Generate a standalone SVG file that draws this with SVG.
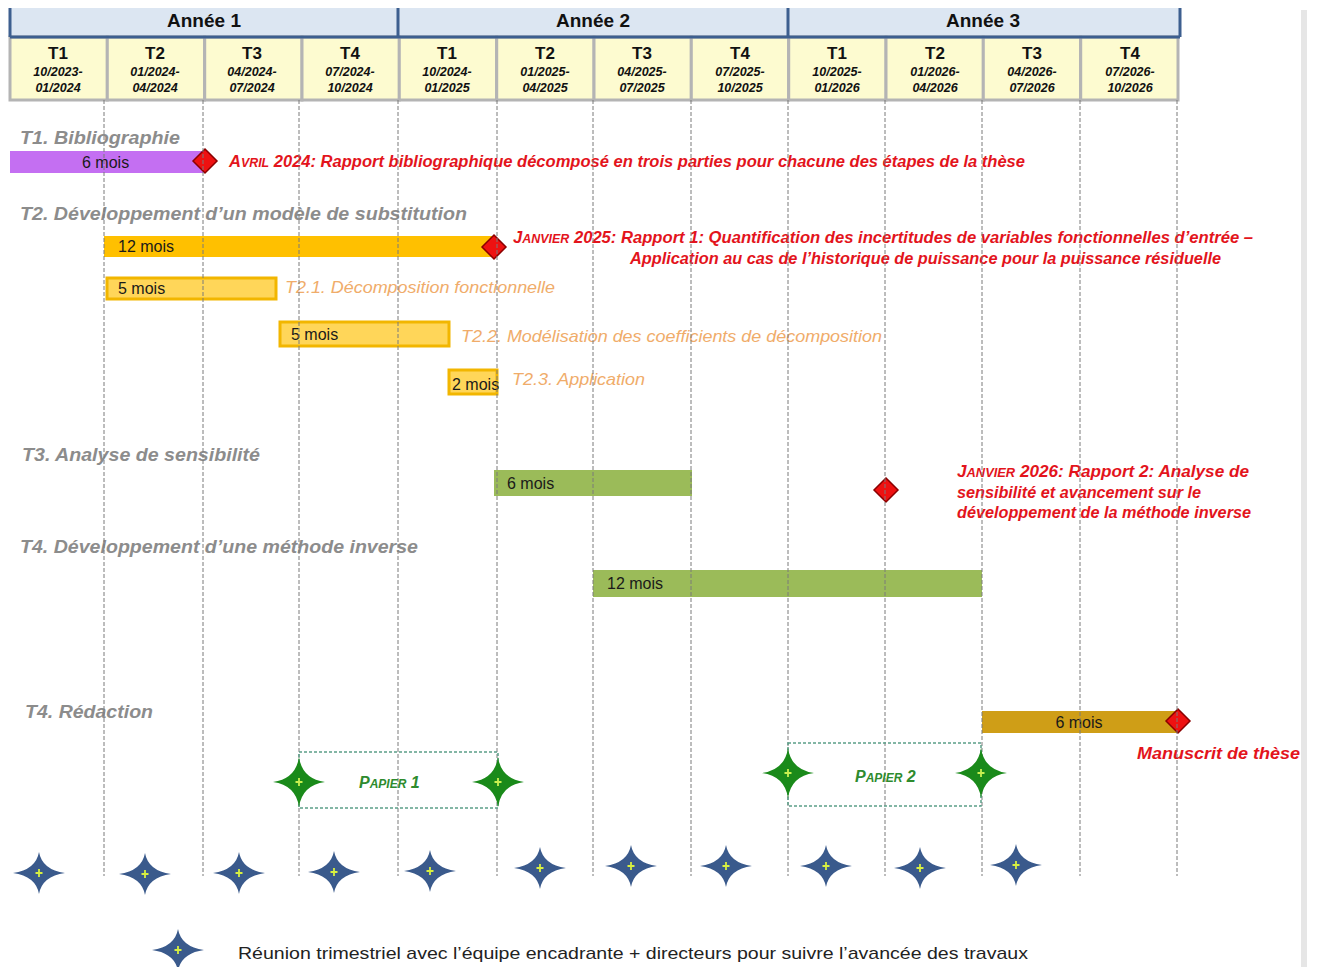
<svg xmlns="http://www.w3.org/2000/svg" width="1317" height="967" viewBox="0 0 1317 967">
<style>
.yr{font-family:"Liberation Sans",Arial,sans-serif;font-weight:bold;font-size:19px;fill:#111;text-anchor:middle}
.q{font-family:"Liberation Sans",Arial,sans-serif;font-weight:bold;font-size:17px;fill:#111;text-anchor:middle}
.dt{font-family:"Liberation Sans",Arial,sans-serif;font-weight:bold;font-style:italic;font-size:12.5px;fill:#111;text-anchor:middle}
.cell{fill:#fdfbd0;stroke:#b4b4b4;stroke-width:3}
.ydiv{stroke:#3d5f8f;stroke-width:3}
.head{font-family:"Liberation Sans",Arial,sans-serif;font-weight:bold;font-style:italic;font-size:18px;fill:#8c8c8c}
.lbl{font-family:"Liberation Sans",Arial,sans-serif;font-size:16px;fill:#1a1a1a}
.red{font-family:"Liberation Sans",Arial,sans-serif;font-weight:bold;font-style:italic;font-size:16px;fill:#e3141c}
.sub{font-family:"Liberation Sans",Arial,sans-serif;font-style:italic;font-size:17px;fill:#f0ac6a}
.pap{font-family:"Liberation Sans",Arial,sans-serif;font-weight:bold;font-style:italic;font-size:16px;fill:#2e8b2e}
.leg{font-family:"Liberation Sans",Arial,sans-serif;font-size:17px;fill:#222}
.sbar{fill:#ffd659;stroke:#f2b600;stroke-width:3}
.dia{fill:#ee1111;stroke:#8b0000;stroke-width:1.5}
.grid{stroke:#7a7a7a;stroke-width:1;stroke-dasharray:4,2}
.pbox{fill:none;stroke:#5b9e88;stroke-width:1.5;stroke-dasharray:3,2}
.sm{font-size:12px}
</style>
<defs>
<path id="diam" d="M0,-12 L12,0 L0,12 L-12,0 Z"/>
<g id="bstar"><path d="M0,-21 Q3.2,-3.2 26,0 Q3.2,3.2 0,21 Q-3.2,3.2 -26,0 Q-3.2,-3.2 0,-21 Z" fill="#3a5a8c"/><path d="M-3.5,0 H3.5 M0,-4 V4" stroke="#d8f040" stroke-width="1.8"/></g>
<g id="gstar"><path d="M0,-25 Q3.2,-3.2 26,0 Q3.2,3.2 0,25 Q-3.2,3.2 -26,0 Q-3.2,-3.2 0,-25 Z" fill="#1a8a1a"/><path d="M-3.5,0 H3.5 M0,-4 V4" stroke="#c8f050" stroke-width="1.8"/></g>
</defs>
<rect width="1317" height="967" fill="#fff"/>
<rect x="1301" y="10" width="6" height="957" fill="#e6e6e6"/>

<g id="header">
<rect x="10" y="8" width="1170" height="29" fill="#dce6f2"/>
<g id="quarters">
<rect class="cell" x="10" y="37" width="97.3" height="63"/>
<rect class="cell" x="107.3" y="37" width="97.3" height="63"/>
<rect class="cell" x="204.7" y="37" width="97.3" height="63"/>
<rect class="cell" x="302" y="37" width="97.3" height="63"/>
<rect class="cell" x="399.3" y="37" width="97.3" height="63"/>
<rect class="cell" x="496.7" y="37" width="97.3" height="63"/>
<rect class="cell" x="594" y="37" width="97.3" height="63"/>
<rect class="cell" x="691.3" y="37" width="97.3" height="63"/>
<rect class="cell" x="788.7" y="37" width="97.3" height="63"/>
<rect class="cell" x="886" y="37" width="97.3" height="63"/>
<rect class="cell" x="983.3" y="37" width="97.3" height="63"/>
<rect class="cell" x="1080.7" y="37" width="97.3" height="63"/>
</g>
<path class="ydiv" d="M10,8 V37 M398,8 V37 M788,8 V37 M1180,8 V37 M10,37 H1180"/>
<text class="yr" x="204" y="27">Année 1</text>
<text class="yr" x="593" y="27">Année 2</text>
<text class="yr" x="983" y="27">Année 3</text>
<text class="q" x="58" y="59">T1</text><text class="q" x="155" y="59">T2</text><text class="q" x="252" y="59">T3</text><text class="q" x="350" y="59">T4</text>
<text class="q" x="447" y="59">T1</text><text class="q" x="545" y="59">T2</text><text class="q" x="642" y="59">T3</text><text class="q" x="740" y="59">T4</text>
<text class="q" x="837" y="59">T1</text><text class="q" x="935" y="59">T2</text><text class="q" x="1032" y="59">T3</text><text class="q" x="1130" y="59">T4</text>
<text class="dt" x="58" y="76">10/2023-</text><text class="dt" x="58" y="92">01/2024</text>
<text class="dt" x="155" y="76">01/2024-</text><text class="dt" x="155" y="92">04/2024</text>
<text class="dt" x="252" y="76">04/2024-</text><text class="dt" x="252" y="92">07/2024</text>
<text class="dt" x="350" y="76">07/2024-</text><text class="dt" x="350" y="92">10/2024</text>
<text class="dt" x="447" y="76">10/2024-</text><text class="dt" x="447" y="92">01/2025</text>
<text class="dt" x="545" y="76">01/2025-</text><text class="dt" x="545" y="92">04/2025</text>
<text class="dt" x="642" y="76">04/2025-</text><text class="dt" x="642" y="92">07/2025</text>
<text class="dt" x="740" y="76">07/2025-</text><text class="dt" x="740" y="92">10/2025</text>
<text class="dt" x="837" y="76">10/2025-</text><text class="dt" x="837" y="92">01/2026</text>
<text class="dt" x="935" y="76">01/2026-</text><text class="dt" x="935" y="92">04/2026</text>
<text class="dt" x="1032" y="76">04/2026-</text><text class="dt" x="1032" y="92">07/2026</text>
<text class="dt" x="1130" y="76">07/2026-</text><text class="dt" x="1130" y="92">10/2026</text>
</g>

<g id="t1">
<text class="head" x="20" y="144" textLength="160" lengthAdjust="spacingAndGlyphs">T1. Bibliographie</text>
<rect x="10" y="151" width="195" height="22" fill="#c46ff2"/>
<text class="lbl" x="82" y="168">6 mois</text>
<use href="#diam" x="205" y="161" class="dia"/>
<text class="red" x="229" y="167" textLength="796" lengthAdjust="spacingAndGlyphs">A<tspan class="sm">VRIL</tspan> 2024: Rapport bibliographique décomposé en trois parties pour chacune des étapes de la thèse</text>
</g>

<g id="t2">
<text class="head" x="20" y="220" textLength="447" lengthAdjust="spacingAndGlyphs">T2. Développement d’un modèle de substitution</text>
<rect x="104" y="236" width="390" height="21" fill="#ffc000"/>
<text class="lbl" x="118" y="252">12 mois</text>
<use href="#diam" x="494" y="247" class="dia"/>
<text class="red" x="513" y="243" textLength="740" lengthAdjust="spacingAndGlyphs">J<tspan class="sm">ANVIER</tspan> 2025: Rapport 1: Quantification des incertitudes de variables fonctionnelles d’entrée –</text>
<text class="red" x="630" y="264" textLength="591" lengthAdjust="spacingAndGlyphs">Application au cas de l’historique de puissance pour la puissance résiduelle</text>
</g>

<g id="t21">
<rect class="sbar" x="107" y="278" width="169" height="21"/>
<text class="lbl" x="118" y="294">5 mois</text>
<text class="sub" x="285" y="293" textLength="270" lengthAdjust="spacingAndGlyphs">T2.1. Décomposition fonctionnelle</text>
</g>
<g id="t22">
<rect class="sbar" x="280" y="322" width="169" height="24"/>
<text class="lbl" x="291" y="340">5 mois</text>
<text class="sub" x="461" y="342" textLength="421" lengthAdjust="spacingAndGlyphs">T2.2. Modélisation des coefficients de décomposition</text>
</g>
<g id="t23">
<rect class="sbar" x="449" y="370" width="48" height="24"/>
<text class="lbl" x="452" y="390">2 mois</text>
<text class="sub" x="512" y="385" textLength="133" lengthAdjust="spacingAndGlyphs">T2.3. Application</text>
</g>

<g id="t3">
<text class="head" x="22" y="461" textLength="238" lengthAdjust="spacingAndGlyphs">T3. Analyse de sensibilité</text>
<rect x="494" y="470" width="198" height="26" fill="#9bbb59"/>
<text class="lbl" x="507" y="489">6 mois</text>
<use href="#diam" x="886" y="490" class="dia"/>
<text class="red" x="957" y="477" textLength="292" lengthAdjust="spacingAndGlyphs">J<tspan class="sm">ANVIER</tspan> 2026: Rapport 2: Analyse de</text>
<text class="red" x="957" y="498" textLength="244" lengthAdjust="spacingAndGlyphs">sensibilité et avancement sur le</text>
<text class="red" x="957" y="518" textLength="294" lengthAdjust="spacingAndGlyphs">développement de la méthode inverse</text>
</g>

<g id="t4">
<text class="head" x="20" y="553" textLength="398" lengthAdjust="spacingAndGlyphs">T4. Développement d’une méthode inverse</text>
<rect x="593" y="570" width="389" height="27" fill="#9bbb59"/>
<text class="lbl" x="607" y="589">12 mois</text>
</g>

<g id="t5">
<text class="head" x="25" y="718" textLength="128" lengthAdjust="spacingAndGlyphs">T4. Rédaction</text>
<rect x="982" y="711" width="196" height="22" fill="#cf9e17"/>
<text class="lbl" x="1079" y="728" text-anchor="middle">6 mois</text>
<use href="#diam" x="1178" y="721" class="dia"/>
<text class="red" x="1137" y="759" textLength="163" lengthAdjust="spacingAndGlyphs">Manuscrit de thèse</text>
</g>

<g id="grid">
<line class="grid" x1="104" y1="100" x2="104" y2="876"/>
<line class="grid" x1="203" y1="100" x2="203" y2="876"/>
<line class="grid" x1="299" y1="100" x2="299" y2="876"/>
<line class="grid" x1="398" y1="100" x2="398" y2="876"/>
<line class="grid" x1="497" y1="100" x2="497" y2="876"/>
<line class="grid" x1="593" y1="100" x2="593" y2="876"/>
<line class="grid" x1="691" y1="100" x2="691" y2="876"/>
<line class="grid" x1="788" y1="100" x2="788" y2="876"/>
<line class="grid" x1="885" y1="100" x2="885" y2="876"/>
<line class="grid" x1="982" y1="100" x2="982" y2="876"/>
<line class="grid" x1="1080" y1="100" x2="1080" y2="876"/>
<line class="grid" x1="1177" y1="100" x2="1177" y2="876"/>
</g>

<g id="papier1">
<rect class="pbox" x="299" y="752" width="199" height="56"/>
<use href="#gstar" x="299" y="782"/>
<use href="#gstar" x="498" y="782"/>
<text class="pap" x="359" y="788">P<tspan class="sm">APIER</tspan> 1</text>
</g>
<g id="papier2">
<rect class="pbox" x="788" y="743" width="193" height="63"/>
<use href="#gstar" x="788" y="773"/>
<use href="#gstar" x="981" y="773"/>
<text class="pap" x="855" y="782">P<tspan class="sm">APIER</tspan> 2</text>
</g>

<g id="meetings">
<use href="#bstar" x="39" y="873"/>
<use href="#bstar" x="145" y="874"/>
<use href="#bstar" x="239" y="873"/>
<use href="#bstar" x="334" y="872"/>
<use href="#bstar" x="430" y="871"/>
<use href="#bstar" x="540" y="868"/>
<use href="#bstar" x="631" y="866"/>
<use href="#bstar" x="726" y="866"/>
<use href="#bstar" x="826" y="866"/>
<use href="#bstar" x="920" y="868"/>
<use href="#bstar" x="1016" y="865"/>
</g>

<g id="legend">
<use href="#bstar" x="178" y="950"/>
<text class="leg" x="238" y="959" textLength="790" lengthAdjust="spacingAndGlyphs">Réunion trimestriel avec l’équipe encadrante + directeurs pour suivre l’avancée des travaux</text>
</g>
</svg>
